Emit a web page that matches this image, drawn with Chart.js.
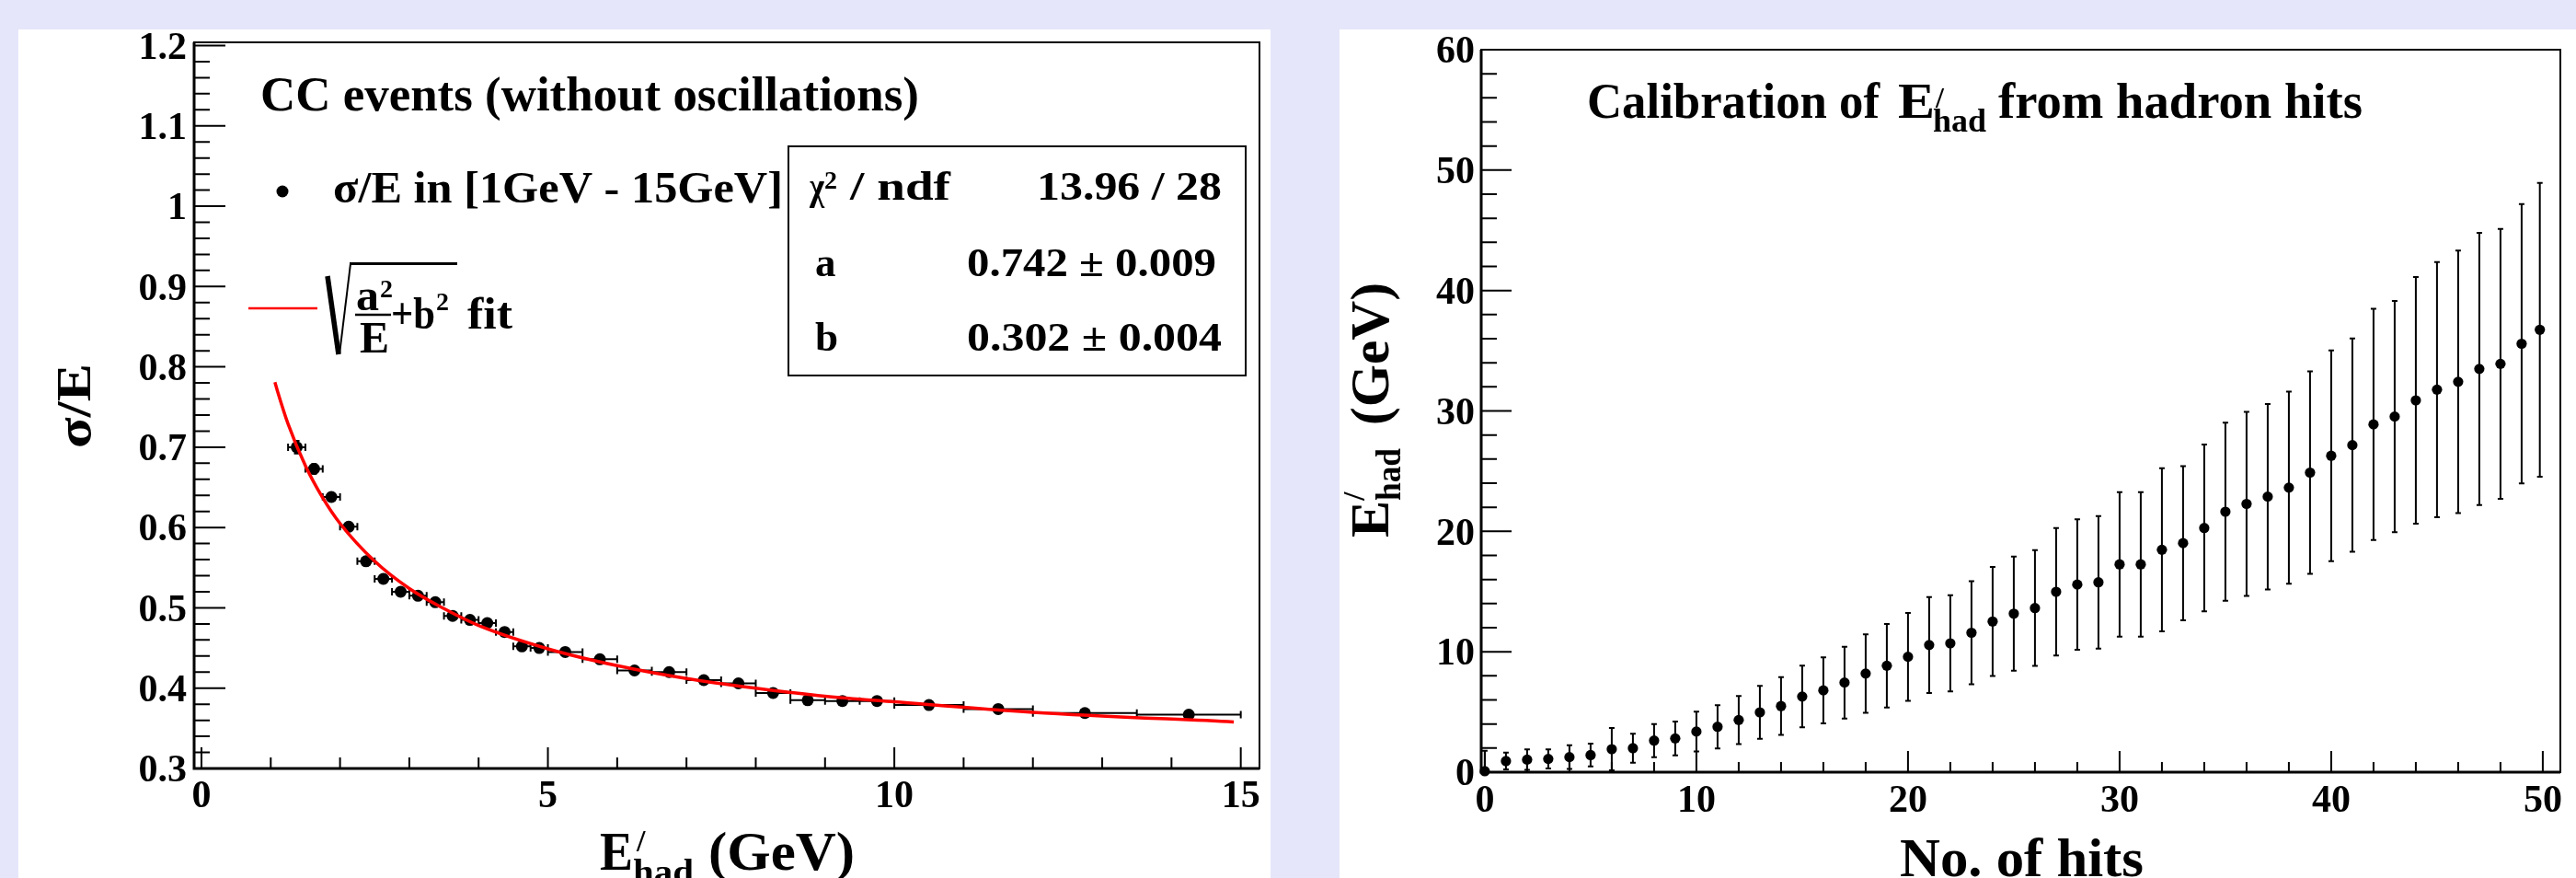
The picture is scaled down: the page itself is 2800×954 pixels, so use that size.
<!DOCTYPE html>
<html>
<head>
<meta charset="utf-8">
<script src="https://cdn.jsdelivr.net/npm/chart.js@4.4.0/dist/chart.umd.min.js"></script>
<style>
  html, body { margin: 0; padding: 0; background: #e6e6fa; width: 2800px; height: 954px; overflow: hidden; }
  canvas { position: absolute; background: #fff; }
  #resChart { left: 20px; top: 32px; }
  #calChart { left: 1456px; top: 32px; }
</style>
</head>
<body>
<canvas id="resChart" width="1361" height="922"></canvas>
<canvas id="calChart" width="1344" height="922"></canvas>
<script>
// Левая панель: разрешение sigma/E
const energyCenters = [1.375, 1.625, 1.875, 2.125, 2.375, 2.625, 2.875, 3.125, 3.375, 3.625, 3.875, 4.125, 4.375, 4.625, 4.875,
  5.25, 5.75, 6.25, 6.75, 7.25, 7.75, 8.25, 8.75, 9.25, 9.75, 10.5, 11.5, 12.75, 14.25];
const energyHalfBins = [0.125, 0.125, 0.125, 0.125, 0.125, 0.125, 0.125, 0.125, 0.125, 0.125, 0.125, 0.125, 0.125, 0.125, 0.125,
  0.25, 0.25, 0.25, 0.25, 0.25, 0.25, 0.25, 0.25, 0.25, 0.25, 0.5, 0.5, 0.75, 0.75];
const resolution = [0.700, 0.673, 0.638, 0.601, 0.558, 0.536, 0.520, 0.515, 0.507, 0.490, 0.485, 0.481, 0.470, 0.452, 0.450,
  0.445, 0.436, 0.422, 0.420, 0.410, 0.406, 0.394, 0.385, 0.384, 0.384, 0.379, 0.374, 0.369, 0.367];
const resolutionErr = [0.008, 0.006, 0.005, 0.005, 0.005, 0.004, 0.004, 0.004, 0.004, 0.004, 0.004, 0.004, 0.004, 0.004, 0.004,
  0.003, 0.003, 0.003, 0.003, 0.003, 0.003, 0.003, 0.003, 0.003, 0.003, 0.003, 0.003, 0.003, 0.003];
// кривая фита
const fitEnergy = [1.06, 1.1, 1.25, 1.5, 1.75, 2, 2.5, 3, 3.5, 4, 5, 6, 7, 8, 9, 10, 12, 14.9];
const fitResolution = [0.781, 0.769, 0.729, 0.677, 0.637, 0.605, 0.558, 0.524, 0.499, 0.478, 0.449, 0.428, 0.412, 0.400, 0.390, 0.383, 0.370, 0.358];
const resXTicks = [0, 5, 10, 15];
const resXLabels = ['0', '5', '10', '15'];
const resYTicks = [0.3, 0.4, 0.5, 0.6, 0.7, 0.8, 0.9, 1, 1.1, 1.2];
const resYLabels = ['0.3', '0.4', '0.5', '0.6', '0.7', '0.8', '0.9', '1', '1.1', '1.2'];

// Правая панель: калибровка по числу хитов
const hitCounts = [0, 1, 2, 3, 4, 5, 6, 7, 8, 9, 10, 11, 12, 13, 14, 15, 16, 17, 18, 19, 20, 21, 22, 23, 24,
  25, 26, 27, 28, 29, 30, 31, 32, 33, 34, 35, 36, 37, 38, 39, 40, 41, 42, 43, 44, 45, 46, 47, 48, 49, 49.86];
const hadronEnergy = [0.08, 0.92, 1.04, 1.10, 1.25, 1.42, 1.91, 1.99, 2.62, 2.80,
  3.37, 3.77, 4.33, 4.97, 5.49, 6.28, 6.79, 7.44, 8.19, 8.84,
  9.58, 10.56, 10.70, 11.58, 12.51, 13.16, 13.63, 14.98, 15.58, 15.77,
  17.26, 17.26, 18.47, 19.02, 20.28, 21.63, 22.28, 22.88, 23.63, 24.88,
  26.28, 27.16, 28.88, 29.53, 30.88, 31.77, 32.42, 33.49, 33.91, 35.58, 36.74];
const hadronEnergyErr = [1.7, 0.7, 0.85, 0.8, 0.98, 0.95, 1.75, 1.2, 1.37, 1.4,
  1.65, 1.8, 2.0, 2.2, 2.4, 2.56, 2.74, 2.98, 3.26, 3.47,
  3.65, 3.98, 4.0, 4.28, 4.53, 4.74, 4.8, 5.3, 5.42, 5.5,
  6.0, 6.0, 6.77, 6.4, 6.93, 7.4, 7.65, 7.7, 7.98, 8.4,
  8.75, 8.86, 9.6, 9.6, 10.25, 10.6, 10.9, 11.3, 11.2, 11.6, 12.2];
const calXTicks = [0, 10, 20, 30, 40, 50];
const calXLabels = ['0', '10', '20', '30', '40', '50'];
const calYTicks = [0, 10, 20, 30, 40, 50, 60];
const calYLabels = ['0', '10', '20', '30', '40', '50', '60'];

const FONT = '"Liberation Serif", "Times New Roman", serif';

// Текст с подгонкой ширины
function put(ctx, s, x, y, size, o = {}) {
  ctx.save();
  ctx.font = `bold ${size}px ${FONT}`;
  ctx.fillStyle = '#000';
  ctx.textBaseline = 'alphabetic';
  const w = ctx.measureText(s).width;
  const k = o.w ? o.w / w : 1;
  let left = x;
  if (o.align === 'right') left = x - w * k;
  if (o.align === 'center') left = x - w * k / 2;
  ctx.translate(left, y);
  ctx.scale(k, 1);
  ctx.fillText(s, 0, 0);
  ctx.restore();
}

function line(ctx, x1, y1, x2, y2, lw, color = '#000') {
  ctx.save();
  ctx.strokeStyle = color;
  ctx.lineWidth = lw;
  ctx.beginPath();
  ctx.moveTo(x1, y1);
  ctx.lineTo(x2, y2);
  ctx.stroke();
  ctx.restore();
}

// Рамка, деления и подписи осей
function drawFrame(chart, s) {
  const { ctx, chartArea: a, scales: { x, y } } = chart;
  ctx.save();
  ctx.strokeStyle = '#000';
  ctx.lineWidth = 2;
  ctx.strokeRect(a.left, a.top, a.right - a.left, a.bottom - a.top);
  ctx.lineWidth = 3;
  ctx.beginPath();
  ctx.moveTo(a.left, a.top);
  ctx.lineTo(a.left, a.bottom);
  ctx.lineTo(a.right, a.bottom);
  ctx.stroke();

  ctx.lineWidth = 2;
  ctx.beginPath();
  const isMajor = (v, list) => list.some(t => Math.abs(t - v) < 1e-6);
  const yFrom = s.yTicks[0], yTo = s.yTicks[s.yTicks.length - 1];
  const ny = Math.round((yTo - yFrom) / s.yMinor);
  for (let i = 0; i <= ny; i++) {
    const v = yFrom + i * s.yMinor;
    const py = y.getPixelForValue(v);
    ctx.moveTo(a.left, py);
    ctx.lineTo(a.left + (isMajor(v, s.yTicks) ? s.yMajorLen : s.yMinorLen), py);
  }
  const xFrom = s.xTicks[0], xTo = s.xTicks[s.xTicks.length - 1];
  const nx = Math.round((xTo - xFrom) / s.xMinor);
  for (let i = 0; i <= nx; i++) {
    const v = xFrom + i * s.xMinor;
    const px = x.getPixelForValue(v);
    ctx.moveTo(px, a.bottom);
    ctx.lineTo(px, a.bottom - (isMajor(v, s.xTicks) ? s.xMajorLen : s.xMinorLen));
  }
  ctx.stroke();

  s.yTicks.forEach((v, i) => {
    put(ctx, s.yLabels[i], a.left - s.yGap, y.getPixelForValue(v) + 0.34 * s.labelSize, s.labelSize, { align: 'right' });
  });
  s.xTicks.forEach((v, i) => {
    put(ctx, s.xLabels[i], x.getPixelForValue(v), a.bottom + s.xDrop, s.labelSize, { align: 'center' });
  });
  ctx.restore();
}

// Погрешности
function drawErrors(chart, s) {
  const { ctx, chartArea: a, scales: { x, y } } = chart;
  ctx.save();
  ctx.strokeStyle = '#000';
  ctx.lineWidth = 2;
  ctx.beginPath();
  s.xs.forEach((xv, i) => {
    const px = x.getPixelForValue(xv);
    const py = y.getPixelForValue(s.ys[i]);
    if (s.xerr) {
      const l = x.getPixelForValue(xv - s.xerr[i]);
      const r = x.getPixelForValue(xv + s.xerr[i]);
      ctx.moveTo(l, py); ctx.lineTo(r, py);
      ctx.moveTo(l, py - 4); ctx.lineTo(l, py + 4);
      ctx.moveTo(r, py - 4); ctx.lineTo(r, py + 4);
    }
    if (s.yerr) {
      const t = y.getPixelForValue(s.ys[i] + s.yerr[i]);
      const bRaw = y.getPixelForValue(s.ys[i] - s.yerr[i]);
      const b = Math.min(bRaw, a.bottom);
      ctx.moveTo(px, t); ctx.lineTo(px, b);
      ctx.moveTo(px - 3, t); ctx.lineTo(px + 3, t);
      if (bRaw <= a.bottom) { ctx.moveTo(px - 3, b); ctx.lineTo(px + 3, b); }
    }
  });
  ctx.stroke();
  ctx.restore();
}

function rootPlugin(s) {
  return {
    id: 'rootStyle',
    beforeDatasetsDraw(chart) { drawErrors(chart, s); },
    afterDraw(chart) {
      drawFrame(chart, s);
      const ctx = chart.ctx;
      ctx.save();
      ctx.translate(-s.origin[0], -s.origin[1]);
      s.texts(ctx);
      ctx.restore();
    }
  };
}

// Надписи левой панели (в координатах страницы)
function resTexts(ctx) {
  put(ctx, 'CC events (without oscillations)', 283, 120, 53, { w: 716 });
  ctx.fillStyle = '#000';
  ctx.beginPath(); ctx.arc(307, 208, 6.5, 0, 2 * Math.PI); ctx.fill();
  put(ctx, 'σ/E in [1GeV - 15GeV]', 362, 220, 49, { w: 489 });
  line(ctx, 270, 335, 345, 335, 2.5, '#ff0000');
  // формула sqrt(a^2/E + b^2)
  line(ctx, 356, 300, 368, 385, 5.5);
  line(ctx, 369, 385, 381, 286.5, 2);
  line(ctx, 380, 286.5, 497, 286.5, 3);
  put(ctx, 'a', 387, 337, 48, { w: 25 });
  put(ctx, '2', 413, 323, 28);
  line(ctx, 386, 342, 425, 342, 2.5);
  put(ctx, 'E', 391, 383, 48, { w: 32 });
  put(ctx, '+b', 425, 357, 48, { w: 48 });
  put(ctx, '2', 474, 337, 28);
  put(ctx, 'fit', 508, 357, 48, { w: 49 });
  // блок статистики
  ctx.strokeStyle = '#000';
  ctx.lineWidth = 2;
  ctx.strokeRect(857, 159, 497, 249);
  put(ctx, 'χ', 880, 217, 45, { w: 16 });
  put(ctx, '2', 896, 205, 28);
  put(ctx, '/ ndf', 924, 217, 45, { w: 109 });
  put(ctx, '13.96 / 28', 1328, 217, 45, { w: 201, align: 'right' });
  put(ctx, 'a', 886, 300, 45);
  put(ctx, '0.742 ± 0.009', 1322, 300, 45, { w: 271, align: 'right' });
  put(ctx, 'b', 886, 381, 45);
  put(ctx, '0.302 ± 0.004', 1328, 381, 45, { w: 277, align: 'right' });
  // подписи осей
  ctx.save();
  ctx.translate(98, 441);
  ctx.rotate(-Math.PI / 2);
  put(ctx, 'σ/E', 0, 0, 52, { w: 92, align: 'center' });
  ctx.restore();
  put(ctx, 'E', 652, 945, 60, { w: 36 });
  put(ctx, '/', 692, 925, 34);
  put(ctx, 'had', 688, 960, 38, { w: 66 });
  put(ctx, '(GeV)', 770, 945, 60, { w: 159 });
}

// Надписи правой панели
function calTexts(ctx) {
  put(ctx, 'Calibration of', 1725, 128, 55, { w: 318 });
  put(ctx, 'E', 2063, 128, 55, { w: 40 });
  put(ctx, '/', 2104, 117, 32);
  put(ctx, 'had', 2101, 143, 36, { w: 58 });
  put(ctx, 'from hadron hits', 2172, 128, 55, { w: 396 });
  ctx.save();
  ctx.translate(1509, 584);
  ctx.rotate(-Math.PI / 2);
  put(ctx, 'E', 0, 0, 60, { w: 40 });
  put(ctx, '/', 40, -26, 34);
  put(ctx, 'had', 40, 13, 38, { w: 57 });
  put(ctx, '(GeV)', 122, 0, 60, { w: 155 });
  ctx.restore();
  put(ctx, 'No. of hits', 2065, 952, 60, { w: 265 });
}

const resSpec = {
  origin: [20, 32],
  xs: energyCenters, ys: resolution, xerr: energyHalfBins, yerr: resolutionErr,
  xTicks: resXTicks, xLabels: resXLabels, xMinor: 1, xMajorLen: 23, xMinorLen: 12,
  yTicks: resYTicks, yLabels: resYLabels, yMinor: 0.02, yMajorLen: 34, yMinorLen: 17,
  labelSize: 42, yGap: 8, xDrop: 42,
  texts: resTexts
};

const calSpec = {
  origin: [1456, 32],
  xs: hitCounts, ys: hadronEnergy, yerr: hadronEnergyErr,
  xTicks: calXTicks, xLabels: calXLabels, xMinor: 2, xMajorLen: 23, xMinorLen: 11,
  yTicks: calYTicks, yLabels: calYLabels, yMinor: 2, yMajorLen: 33, yMinorLen: 17,
  labelSize: 42, yGap: 7, xDrop: 43,
  texts: calTexts
};

const baseOptions = {
  responsive: false,
  animation: false,
  devicePixelRatio: 1,
  plugins: { legend: { display: false }, tooltip: { enabled: false } }
};

new Chart(document.getElementById('resChart'), {
  type: 'scatter',
  data: {
    datasets: [
      {
        data: fitEnergy.map((e, i) => ({ x: e, y: fitResolution[i] })),
        showLine: true, borderColor: '#ff0000', borderWidth: 3.5, pointRadius: 0,
        cubicInterpolationMode: 'monotone', order: 0
      },
      {
        data: energyCenters.map((e, i) => ({ x: e, y: resolution[i] })),
        pointRadius: 6.5, backgroundColor: '#000', borderWidth: 0, order: 1, clip: false
      }
    ]
  },
  options: {
    ...baseOptions,
    layout: { padding: { left: 191, top: 14, right: 12, bottom: 119 } },
    scales: {
      x: { type: 'linear', min: -0.106, max: 15.27, display: false },
      y: { type: 'linear', min: 0.3, max: 1.204, display: false }
    }
  },
  plugins: [rootPlugin(resSpec)]
});

new Chart(document.getElementById('calChart'), {
  type: 'scatter',
  data: {
    datasets: [
      {
        data: hitCounts.map((h, i) => ({ x: h, y: hadronEnergy[i] })),
        pointRadius: 5.6, backgroundColor: '#000', borderWidth: 0, clip: false
      }
    ]
  },
  options: {
    ...baseOptions,
    layout: { padding: { left: 154, top: 22, right: 17, bottom: 115 } },
    scales: {
      x: { type: 'linear', min: -0.17, max: 50.83, display: false },
      y: { type: 'linear', min: 0, max: 60, display: false }
    }
  },
  plugins: [rootPlugin(calSpec)]
});
</script>
</body>
</html>
